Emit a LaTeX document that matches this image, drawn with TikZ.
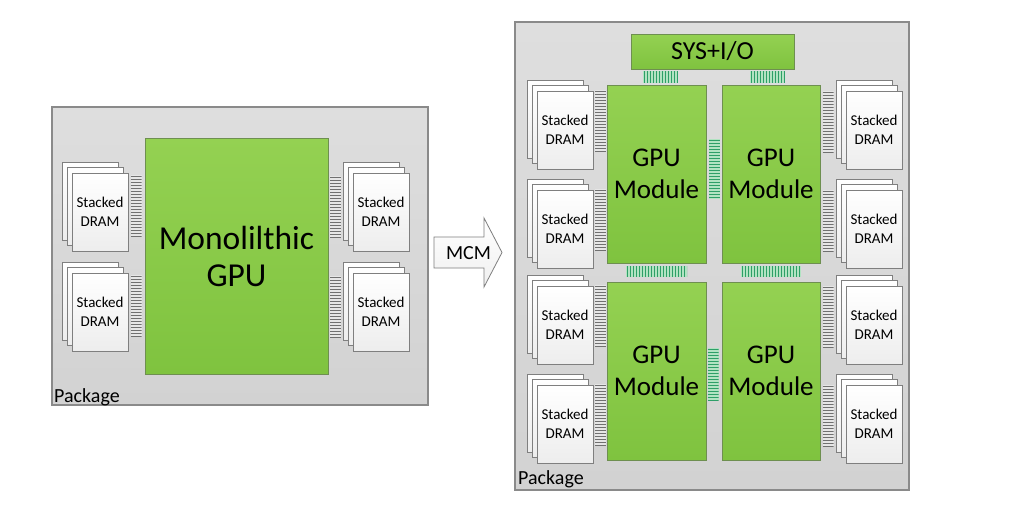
\documentclass[tikz,border=0pt]{standalone}
\usepackage{fontspec}
\setmainfont{Carlito}
\definecolor{gpug}{HTML}{94D152}
\definecolor{gpugd}{HTML}{7FC33F}
\definecolor{gpuborder}{HTML}{6E8F50}
\definecolor{pkgtop}{HTML}{DEDEDE}
\definecolor{pkgbot}{HTML}{D2D2D2}
\definecolor{pkgborder}{HTML}{8A8A8A}
\definecolor{hatchgray}{HTML}{707070}
\definecolor{hatchbg}{HTML}{E6E6E6}
\definecolor{hatchg}{HTML}{2E9F68}
\definecolor{hatchgl}{HTML}{B2E3C2}
\definecolor{sheetborder}{HTML}{7F7F7F}
\tikzset{
  hlines/.style={path picture={\foreach \i in {0,...,30}{\draw[#1, line width=0.9pt] ([yshift={-1.5pt-\i*3pt}]path picture bounding box.north west) -- ([yshift={-1.5pt-\i*3pt}]path picture bounding box.north east);}}},
  vlines/.style={path picture={\foreach \i in {0,...,30}{\draw[#1, line width=0.9pt] ([xshift={1.5pt+\i*3pt}]path picture bounding box.north west) -- ([xshift={1.5pt+\i*3pt}]path picture bounding box.south west);}}},
  grayhatch/.style={fill=hatchbg, inner sep=0, minimum width=11pt, minimum height=62pt, hlines=hatchgray},
  greenv/.style={fill=hatchgl, inner sep=0, vlines=hatchg},
  greenh/.style={fill=hatchgl, inner sep=0, hlines=hatchg},
  pkgbox/.style={draw=pkgborder, line width=1.3pt, top color=pkgtop, bottom color=pkgbot, inner sep=0},
  gpubox/.style={draw=gpuborder, line width=0.9pt, top color=gpug, bottom color=gpugd, inner sep=0, align=center},
  sheet/.style={draw=sheetborder, line width=0.8pt, top color=white, bottom color=gray!14, minimum width=56pt, minimum height=78pt, inner sep=0},
  dram/.pic={
    \node[sheet] (-b) at (-10,-11) {};
    \node[sheet] (-m) at (-5,-6) {};
    \node[sheet, align=center, font=\fontsize{15}{19}\selectfont] (-f) at (0,0) {Stacked\\DRAM};
  },
  lbl/.style={anchor=base west, font=\fontsize{20}{24}\selectfont, inner sep=0},
}
\begin{document}
\begin{tikzpicture}[x=1pt,y=-1pt]
\useasboundingbox (0,0) rectangle (1030,530);
\fill[white] (0,0) rectangle (1030,530);

% ---------- left package ----------
\node[pkgbox, minimum width=376pt, minimum height=298pt] (pkgL) at (240,256) {};
\node[lbl] (lblL) at (54,402) {Package};
\node[gpubox, minimum width=183pt, minimum height=236pt, font=\fontsize{33.5}{37}\selectfont] (mono) at (236.5,256) {Monolilthic\\GPU};
\pic (dL1) at (100,212) {dram};
\pic (dL2) at (100,312) {dram};
\pic (dL3) at (381,212) {dram};
\pic (dL4) at (381,312) {dram};
\node[grayhatch] (hL1) at (136,206) {};
\node[grayhatch] (hL2) at (136,306) {};
\node[grayhatch] (hL3) at (335.5,207) {};
\node[grayhatch] (hL4) at (335.5,307) {};

% ---------- MCM arrow ----------
\draw[draw=sheetborder, line width=0.8pt, top color=white, bottom color=gray!12]
  (434,237) -- (484,237) -- (484,218) -- (502,252.5) -- (484,287) -- (484,268) -- (434,268) -- cycle;
\node[font=\fontsize{20}{24}\selectfont] (mcm) at (468.5,253) {MCM};

% ---------- right package ----------
\node[pkgbox, minimum width=394pt, minimum height=468pt] (pkgR) at (712,256) {};
\node[lbl] (lblR) at (518,484) {Package};
\node[gpubox, minimum width=163pt, minimum height=35pt, font=\fontsize{26}{30}\selectfont] (sys) at (712.5,51.5) {SYS+I/O};
\node[gpubox, minimum width=99pt, minimum height=178pt, font=\fontsize{27}{32}\selectfont] (m1) at (656.5,174) {GPU\\Module};
\node[gpubox, minimum width=98pt, minimum height=178pt, font=\fontsize{27}{32}\selectfont] (m2) at (771,174) {GPU\\Module};
\node[gpubox, minimum width=99pt, minimum height=178pt, font=\fontsize{27}{32}\selectfont] (m3) at (656.5,371) {GPU\\Module};
\node[gpubox, minimum width=98pt, minimum height=178pt, font=\fontsize{27}{32}\selectfont] (m4) at (771,371) {GPU\\Module};

% green links
\node[greenv, minimum width=35pt, minimum height=12pt] (g1) at (660.5,77) {};
\node[greenv, minimum width=35pt, minimum height=12pt] (g2) at (767.5,77) {};
\node[greenv, minimum width=61pt, minimum height=11pt] (g3) at (656.5,271.5) {};
\node[greenv, minimum width=60pt, minimum height=11pt] (g4) at (771,271.5) {};
\node[greenh, minimum width=11pt, minimum height=60pt] (g5) at (714.5,169) {};
\node[greenh, minimum width=11pt, minimum height=52pt] (g6) at (713,374) {};

% DRAM stacks
\foreach \n/\y in {1/130,2/229,3/325,4/424}{
  \pic (dRL\n) at (565,\y) {dram};
  \pic (dRR\n) at (874,\y) {dram};
  \node[grayhatch] (hRL\n) at (600.5,\y-9) {};
  \node[grayhatch] (hRR\n) at (828,\y-8) {};
}
\end{tikzpicture}
\end{document}
